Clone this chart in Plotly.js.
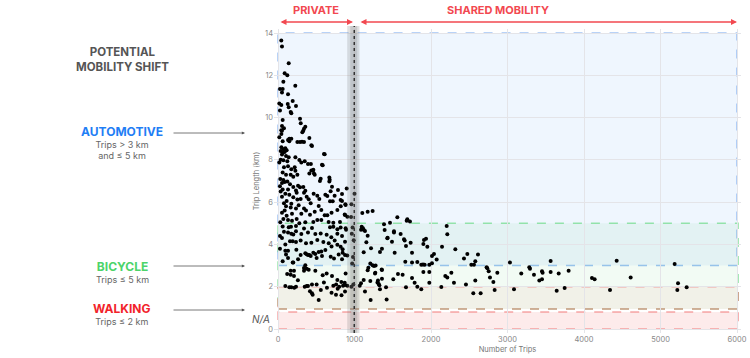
<!DOCTYPE html>
<html>
<head>
<meta charset="utf-8">
<script src="https://cdn.plot.ly/plotly-3.0.1.min.js"></script>
<style>html,body{margin:0;padding:0;background:#fff;}#chart{width:750px;height:358px;}</style>
</head>
<body>
<div id="chart"></div>
<script>
// Private trips (x < 1000): [number of trips, trip length km]
const privatePoints = [
[43,13.64],[52,13.36],[140,12.57],[87,12.1],[122,12.0],[70,11.7],[226,11.5],[26,11.35],[61,11.35],[52,11.18],[131,11.1],[17,10.67],[43,10.6],[127,10.64],[140,10.49],[192,10.78],[235,10.55],[26,10.33],[166,10.26],[174,10.2],[288,9.95],[61,9.89],[297,9.73],[52,9.6],[78,9.5],[43,9.4],[357,9.57],[340,9.47],[330,9.38],[318,9.3],[52,9.38],[44,9.22],[17,9.07],[410,9.03],[148,9.0],[174,9.0],
[61,8.88],[131,8.94],[148,8.88],[253,8.85],[288,8.85],[314,8.86],[340,8.85],[44,8.6],[70,8.5],[96,8.55],[35,8.42],[61,8.34],[113,8.45],[87,8.37],[436,8.69],[444,8.66],[52,8.25],[105,8.18],[140,8.12],[601,8.28],[610,8.26],[35,8.0],[70,7.98],[17,7.87],[122,7.93],[227,8.12],[279,7.99],[305,7.87],[349,7.93],[392,7.8],
[575,7.77],[584,7.74],[78,7.65],[131,7.7],[174,7.55],[218,7.65],[227,7.49],[61,7.4],[105,7.3],[166,7.3],[200,7.2],[253,7.3],[436,7.5],[462,7.53],[410,7.36],[470,7.36],[480,7.3],[430,7.8],[458,7.5],[558,7.11],[548,7.0],[671,7.17],[671,6.98],[676,7.06],[30,7.1],[70,7.05],[87,6.95],[52,6.9],[122,6.98],[157,6.85],[26,6.75],[200,6.72],[262,6.78],[288,6.7],[331,6.72],[706,6.73],
[784,6.57],[898,6.64],[357,6.54],[340,6.45],[619,6.35],[645,6.29],[688,6.51],[837,6.39],[96,6.4],[148,6.35],[52,6.26],[200,6.23],[253,6.13],[113,6.05],[78,5.95],[174,5.92],[375,6.26],[401,6.14],[427,5.95],[680,6.04],[715,6.04],[819,6.1],[837,6.05],[35,6.5],[61,6.6],[131,6.6],[244,6.45],[296,6.15],[235,6.55],[466,6.4],[514,6.3],[740,6.3],[540,6.15],
[105,5.8],[166,5.75],[235,5.7],[270,5.85],[183,5.45],[113,5.36],[52,5.5],[340,5.7],[366,5.6],[418,5.4],[532,5.82],[566,5.63],[776,5.63],[610,5.38],[645,5.38],[872,5.41],[906,5.31],[70,5.2],[131,5.15],[183,5.12],[244,5.2],[279,5.0],[357,5.05],[462,5.06],[514,5.15],[566,5.15],[662,5.06],[723,5.03],[810,5.06],[30,5.05],[87,5.6],[305,5.45],[480,5.55],[700,5.5],[880,5.9],[820,5.8],
[140,4.81],[170,4.84],[235,4.87],[340,4.75],[444,4.78],[680,4.81],[723,4.84],[776,4.72],[819,4.8],[890,4.7],[131,4.56],[174,4.5],[200,4.47],[235,4.62],[305,4.49],[392,4.56],[488,4.49],[558,4.52],[636,4.46],[697,4.34],[837,4.4],[776,4.5],[157,4.15],[192,4.15],[235,4.12],[296,4.18],[366,4.05],[436,4.08],[514,4.21],[593,4.12],[663,4.05],[741,4.18],[776,3.99],[819,3.89],[845,3.77],[52,4.3],[78,4.6],[96,4.0],[61,4.85],[26,4.4],
[96,3.7],[131,3.7],[105,3.52],[131,3.36],[200,3.14],[262,3.3],[357,3.58],[375,3.54],[392,3.5],[410,3.5],[427,3.45],[462,3.61],[488,3.55],[532,3.64],[566,3.66],[619,3.74],[505,3.36],[575,3.45],[689,3.42],[732,3.33],[793,3.52],[845,3.61],[837,3.3],[906,3.48],[192,3.14],[357,3.01],[296,3.5],[26,3.8],[61,3.2],[240,3.75],[700,3.9],
[340,2.89],[375,2.85],[166,2.76],[209,2.76],[166,2.57],[209,2.51],[340,2.76],[401,2.8],[488,2.76],[584,2.54],[636,2.63],[706,2.51],[776,2.32],[828,2.22],[872,2.19],[850,2.05],[906,2.05],[96,2.03],[148,1.97],[174,1.97],[235,2.0],[349,2.0],[375,2.03],[392,2.03],[444,2.1],[505,2.1],[723,2.05],[760,2.1],[800,2.0],[600,2.2],[260,2.3],[120,2.6],
[418,1.78],[453,1.62],[532,1.37],[212,1.95],[700,1.72],[780,1.9],[640,1.95],[560,1.85],[830,1.6],[444,1.69],[758,1.62],
[884,5.87],[876,5.39],[884,4.76],[876,4.13],[876,3.5],[884,2.62],[876,2.08],[876,1.77]
];
// Trips near the 1000 threshold (under the band)
const bandPoints = [
[960,5.9],[975,4.8],[965,4.5],[980,3.4],[970,3.1],[985,2.1],[960,2.0],[990,4.2],[1000,6.4],[955,5.3]
];
// Shared mobility trips (x > 1000)
const sharedPoints = [
[1102,5.49],[1172,5.55],[1237,5.58],[1464,5.03],[1560,5.28],[1690,5.19],[1682,5.12],[1725,5.09],[1386,4.95],[2205,4.87],[1094,4.84],[1111,4.76],[1120,4.7],[1085,4.7],[1137,4.64],[1394,4.68],[1516,4.62],[1516,4.56],[1603,4.49],[2213,4.48],[1172,4.41],[1433,4.32],[1429,4.29],[1647,4.24],[1656,4.18],[1935,4.27],[1908,4.21],[1900,4.02],[1490,4.13],[1155,4.1],[1734,4.08],[1673,3.92],[1952,3.89],[2144,3.89],[1216,3.82],[1359,3.8],[1333,3.64],[2318,3.77],[1525,3.61],[1752,3.61],[1120,3.63],[2039,3.55],[2013,3.45],[2475,3.55],[2614,3.52],[2431,3.34],[2074,3.29],[1664,3.18],[1752,3.15],[1821,3.17],[2579,3.2],[2013,3.11],[1978,3.04],[1873,3.04],[1895,3.05],[1917,3.04],[2527,3.04],[2562,3.04],[3032,3.15],[3564,3.22],[4427,3.23],[5185,3.07],
[1255,2.98],[1237,3.02],[1207,3.1],[1276,3.0],[1181,2.9],[1172,2.78],[1355,2.81],[2727,2.92],[2736,2.87],[3285,2.92],[3294,2.85],[1272,2.66],[1268,2.62],[1359,2.79],[1568,2.6],[1629,2.57],[1900,2.7],[1978,2.7],[2266,2.66],[2754,2.73],[2867,2.66],[3180,2.63],[3451,2.73],[3459,2.66],[3564,2.7],[3669,2.63],[3799,2.76],[3346,2.57],[2187,2.51],[2213,2.44],[1752,2.41],[1359,2.38],[1507,2.35],[2771,2.44],[2579,2.29],[2815,2.22],[3416,2.29],[3451,2.35],[4104,2.41],[4139,2.35],[4610,2.44],[1786,2.19],[1978,2.19],[2300,2.19],[1307,2.29],[1316,2.13],[1325,2.07],[1120,2.32],[1207,2.27],[1300,2.2],[1085,2.16],[1068,2.05],[2457,2.1],[5229,2.16],
[1821,2.0],[1673,1.97],[1412,1.97],[2135,1.99],[5342,1.97],[1873,1.88],[1333,1.88],[3747,1.94],[3085,1.88],[2832,1.84],[3643,1.81],[4340,1.84],[5220,1.84],[2553,1.69],[2649,1.69],[1420,1.4],[1211,1.37],[1137,1.77]
];
const xTicks = [0,1000,2000,3000,4000,5000,6000];
const yTicks = [0,2,4,6,8,10,12,14];

const all = privatePoints.concat(bandPoints, sharedPoints);
const trace = {
  type: 'scatter', mode: 'markers',
  x: all.map(p => p[0]), y: all.map(p => p[1]),
  marker: {color: '#000', size: 4},
  hoverinfo: 'skip', showlegend: false
};

const blueLine = 'rgba(110,165,240,0.65)';
const greenLine = 'rgba(90,215,120,0.6)';
const redLine = 'rgba(240,110,110,0.6)';
const shapes = [
  {type:'rect', xref:'x', yref:'y', x0:0, x1:6000, y0:3, y1:14, layer:'below',
   fillcolor:'rgba(40,130,245,0.075)', line:{color:blueLine, width:1.5, dash:'dash'}},
  {type:'rect', xref:'x', yref:'y', x0:0, x1:6015, y0:0.95, y1:5, layer:'below',
   fillcolor:'rgba(70,205,100,0.07)', line:{color:greenLine, width:1.5, dash:'dash'}},
  {type:'rect', xref:'x', yref:'y', x0:0, x1:6015, y0:0.95, y1:2, layer:'below',
   fillcolor:'rgba(235,110,90,0.07)', line:{color:redLine, width:1.5, dash:'dash'}},
  {type:'rect', xref:'x', yref:'y', x0:0, x1:6015, y0:0, y1:0.8, layer:'below',
   fillcolor:'rgba(240,90,90,0.12)', line:{color:redLine, width:1.5, dash:'dash'}},
  {type:'rect', xref:'x', yref:'paper', x0:905, x1:1065, y0:0, y1:1.01, layer:'above',
   fillcolor:'rgba(120,120,120,0.22)', line:{width:0}},
  {type:'rect', xref:'x', yref:'paper', x0:945, x1:1035, y0:0, y1:1.01, layer:'above',
   fillcolor:'rgba(120,120,120,0.22)', line:{width:0}},
  {type:'line', xref:'x', yref:'paper', x0:997, x1:997, y0:0, y1:1.01, layer:'above',
   line:{color:'#333', width:1.5, dash:'dot'}}
];

const red = 'rgb(242,72,80)';
const F = 'Inter, "Noto Sans", sans-serif';
function txt(x, y, text, size, color, extra) {
  return Object.assign({xref:'paper', yref:'paper', x:x, y:y, text:text, showarrow:false, borderpad:0,
    font:{family:F, size:size, color:color}, xanchor:'center', yanchor:'middle'}, extra||{});
}
function head(title, color) {
  return '<b><span style="font-size:12px;color:' + color + '">' + title + '</span></b>';
}
// paper coordinate helpers (plot area: x 274..741, y 29..333)
const px = v => (v - 274) / 467;
const py = v => (333 - v) / 304;

const annotations = [
  txt(px(316), py(10), '<b>PRIVATE</b>', 11, red),
  txt(px(498), py(10), '<b>SHARED MOBILITY</b>', 11, red),
  txt(px(122), py(59.5), '<b>POTENTIAL<br>MOBILITY SHIFT</b>', 11.5, '#555'),
  txt(px(122), py(142), head('AUTOMOTIVE', '#1f7ef5') + '<br>Trips &gt; 3 km<br>and ≤ 5 km', 9, '#666'),
  txt(px(122), py(271.5), head('BICYCLE', '#4cd46a') + '<br>Trips ≤ 5 km', 9, '#666'),
  txt(px(122), py(313.5), head('WALKING', '#f2232b') + '<br>Trips ≤ 2 km', 9, '#666'),
  txt(px(271), py(319), '<i>N/A</i>', 10, '#555', {xanchor:'right'}),
  // arrows from labels to the chart
  {xref:'paper', yref:'paper', x:px(245), y:py(133), axref:'paper', ayref:'paper', ax:px(172), ay:py(133),
   text:'', showarrow:true, arrowhead:2, arrowsize:0.8, arrowwidth:0.8, arrowcolor:'#555'},
  {xref:'paper', yref:'paper', x:px(245), y:py(266), axref:'paper', ayref:'paper', ax:px(172), ay:py(266),
   text:'', showarrow:true, arrowhead:2, arrowsize:0.8, arrowwidth:0.8, arrowcolor:'#555'},
  {xref:'paper', yref:'paper', x:px(245), y:py(310), axref:'paper', ayref:'paper', ax:px(172), ay:py(310),
   text:'', showarrow:true, arrowhead:2, arrowsize:0.8, arrowwidth:0.8, arrowcolor:'#555'},
  // top range arrows
  {xref:'paper', yref:'paper', x:px(353), y:py(22), axref:'paper', ayref:'paper', ax:px(279), ay:py(22),
   text:'', showarrow:true, arrowhead:2, startarrowhead:2, arrowside:'end+start', arrowsize:0.8, arrowwidth:1.5, arrowcolor:red},
  {xref:'paper', yref:'paper', x:px(737), y:py(22), axref:'paper', ayref:'paper', ax:px(359), ay:py(22),
   text:'', showarrow:true, arrowhead:2, startarrowhead:2, arrowside:'end+start', arrowsize:0.8, arrowwidth:1.5, arrowcolor:red}
];

const s = 459 / 6000;
const ys = 296 / 14;
const layout = {
  width: 750, height: 358,
  margin: {l: 274, r: 9, t: 29, b: 25, pad: 0},
  paper_bgcolor: '#fff', plot_bgcolor: '#fff',
  showlegend: false,
  xaxis: {
    range: [-4 / s, 6000 + 4 / s],
    tickvals: xTicks, ticktext: xTicks.map(String),
    showgrid: true, gridcolor: '#e4e4e8', gridwidth: 1,
    zeroline: false, showline: false, ticks: '',
    tickfont: {family: F, size: 7.5, color: '#888'},
    title: {text: 'Number of Trips', font: {family: F, size: 7.5, color: '#777'}, standoff: 4}
  },
  yaxis: {
    range: [-4 / ys, 14 + 4 / ys],
    tickvals: yTicks, ticktext: yTicks.map(String),
    showgrid: true, gridcolor: '#e4e4e8', gridwidth: 1,
    zeroline: false, showline: false, ticks: '',
    tickfont: {family: F, size: 7.5, color: '#888'},
    title: {text: 'Trip Length (km)', font: {family: F, size: 7.5, color: '#777'}, standoff: 4}
  },
  shapes: shapes,
  annotations: annotations
};

Plotly.newPlot('chart', [trace], layout, {displayModeBar: false, staticPlot: true});
</script>
</body>
</html>
